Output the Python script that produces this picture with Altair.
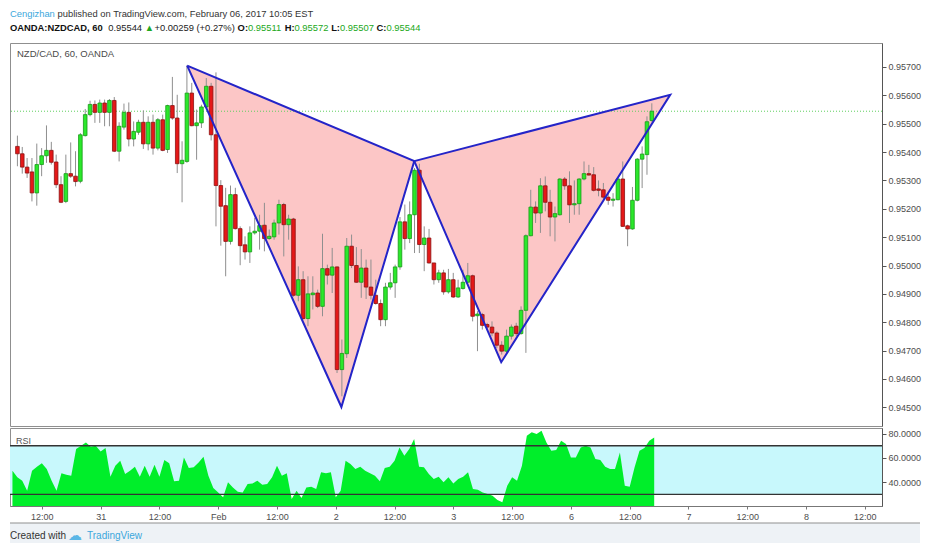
import altair as alt
import pandas as pd

# ---------------- data ----------------
opens = [0.95420,0.95394,0.95347,0.95330,0.95256,0.95356,0.95387,0.95406,0.95365,0.95285,
         0.95226,0.95324,0.95315,0.95297,0.95458,0.95532,0.95568,0.95540,0.95573,0.95540,
         0.95582,0.95403,0.95488,0.95540,0.95446,0.95470,0.95505,0.95429,0.95505,0.95414,
         0.95514,0.95409,0.95564,0.95520,0.95359,0.95367,0.95608,0.95493,0.95503,0.95559,
         0.95632,0.95461,0.95282,0.95211,0.95085,0.95250,0.95130,0.95073,0.95048,0.95115,
         0.95121,0.95142,0.95095,0.95101,0.95150,0.95215,0.95144,0.95164,0.94895,0.94950,
         0.94813,0.94897,0.94903,0.94856,0.94989,0.94966,0.94995,0.94633,0.94689,0.95068,
         0.95000,0.94941,0.94991,0.94924,0.94895,0.94866,0.94809,0.94924,0.94939,0.94995,
         0.95154,0.95095,0.95179,0.95336,0.95074,0.95097,0.95009,0.94950,0.94974,0.94907,
         0.94950,0.94889,0.94919,0.94941,0.94964,0.94823,0.94827,0.94792,0.94783,0.94762,
         0.94719,0.94698,0.94751,0.94786,0.94760,0.94842,0.95105,0.95206,0.95185,0.95281,
         0.95223,0.95171,0.95179,0.95305,0.95281,0.95214,0.95218,0.95305,0.95324,0.95320,
         0.95270,0.95267,0.95241,0.95230,0.95232,0.95305,0.95140,0.95129,0.95230,0.95375,
         0.95391,0.95511]
highs = [0.95458,0.95418,0.95379,0.95379,0.95430,0.95414,0.95494,0.95436,0.95391,0.95315,
         0.95391,0.95434,0.95403,0.95467,0.95552,0.95581,0.95582,0.95585,0.95585,0.95587,
         0.95594,0.95505,0.95571,0.95575,0.95508,0.95514,0.95547,0.95526,0.95532,0.95520,
         0.95532,0.95567,0.95665,0.95602,0.95438,0.95705,0.95644,0.95550,0.95567,0.95661,
         0.95644,0.95681,0.95301,0.95274,0.95282,0.95274,0.95138,0.95103,0.95138,0.95168,
         0.95179,0.95221,0.95127,0.95162,0.95232,0.95221,0.95179,0.95168,0.94997,0.94980,
         0.94962,0.94962,0.94915,0.95112,0.95003,0.95062,0.94997,0.94739,0.95097,0.95109,
         0.95065,0.95058,0.95021,0.95021,0.94950,0.94880,0.94939,0.94974,0.95003,0.95171,
         0.95215,0.95226,0.95344,0.95359,0.95138,0.95129,0.95009,0.94985,0.94985,0.94988,
         0.94974,0.94950,0.94985,0.95009,0.94968,0.94839,0.94833,0.94798,0.94803,0.94768,
         0.94733,0.94774,0.94792,0.94798,0.94856,0.95110,0.95267,0.95226,0.95308,0.95314,
         0.95267,0.95208,0.95308,0.95312,0.95332,0.95300,0.95308,0.95367,0.95355,0.95347,
         0.95300,0.95291,0.95258,0.95255,0.95308,0.95367,0.95144,0.95277,0.95379,0.95420,
         0.95526,0.95572]
lows = [0.95350,0.95324,0.95309,0.95226,0.95211,0.95315,0.95362,0.95356,0.95273,0.95220,
        0.95220,0.95309,0.95279,0.95290,0.95455,0.95526,0.95503,0.95503,0.95491,0.95491,
        0.95400,0.95367,0.95479,0.95420,0.95420,0.95461,0.95411,0.95406,0.95391,0.95406,
        0.95403,0.95397,0.95514,0.95326,0.95223,0.95362,0.95491,0.95373,0.95485,0.95555,
        0.95441,0.95138,0.95070,0.94962,0.95074,0.95127,0.95001,0.95021,0.95009,0.95109,
        0.95056,0.95050,0.95091,0.95091,0.95109,0.95032,0.95091,0.94890,0.94874,0.94809,
        0.94786,0.94845,0.94850,0.94821,0.94933,0.94903,0.94621,0.94539,0.94674,0.94991,
        0.94939,0.94886,0.94882,0.94880,0.94862,0.94786,0.94786,0.94915,0.94886,0.94985,
        0.95056,0.95079,0.95044,0.95044,0.94980,0.95007,0.94933,0.94939,0.94897,0.94901,
        0.94886,0.94886,0.94915,0.94939,0.94803,0.94698,0.94774,0.94774,0.94751,0.94709,
        0.94686,0.94692,0.94739,0.94751,0.94756,0.94692,0.95103,0.95150,0.95115,0.95191,
        0.95103,0.95085,0.95176,0.95267,0.95150,0.95179,0.95179,0.95300,0.95317,0.95261,
        0.95244,0.95234,0.95214,0.95208,0.95230,0.95136,0.95068,0.95126,0.95226,0.95273,
        0.95320,0.95507]
closes = [0.95394,0.95347,0.95326,0.95256,0.95356,0.95387,0.95406,0.95364,0.95285,0.95223,
          0.95324,0.95315,0.95296,0.95461,0.95532,0.95568,0.95540,0.95573,0.95540,0.95582,
          0.95403,0.95491,0.95540,0.95446,0.95473,0.95505,0.95429,0.95505,0.95414,0.95514,
          0.95406,0.95564,0.95520,0.95359,0.95371,0.95608,0.95493,0.95503,0.95559,0.95632,
          0.95461,0.95282,0.95209,0.95085,0.95250,0.95130,0.95070,0.95048,0.95115,0.95121,
          0.95141,0.95095,0.95103,0.95150,0.95215,0.95144,0.95164,0.94895,0.94950,0.94813,
          0.94900,0.94903,0.94856,0.94989,0.94966,0.94995,0.94633,0.94690,0.95068,0.95000,
          0.94941,0.94991,0.94924,0.94895,0.94866,0.94809,0.94924,0.94939,0.94995,0.95154,
          0.95095,0.95179,0.95336,0.95074,0.95097,0.95009,0.94950,0.94974,0.94907,0.94950,
          0.94889,0.94921,0.94941,0.94964,0.94821,0.94829,0.94789,0.94783,0.94762,0.94719,
          0.94698,0.94751,0.94783,0.94760,0.94842,0.95105,0.95206,0.95185,0.95281,0.95223,
          0.95171,0.95183,0.95305,0.95281,0.95214,0.95218,0.95305,0.95324,0.95319,0.95265,
          0.95265,0.95241,0.95230,0.95234,0.95305,0.95138,0.95129,0.95230,0.95375,0.95393,
          0.95507,0.95544]
rsi_values = [49.5,44.0,41.2,33.0,49.5,52.7,55.5,50.8,41.2,33.0,
              47.3,46.2,45.3,67.3,70.0,72.7,69.2,70.0,65.3,68.1,
              44.5,53.6,57.7,46.7,49.5,52.7,44.5,53.6,44.5,54.4,
              44.5,58.2,55.5,40.7,41.2,60.4,51.6,52.2,56.3,61.0,
              45.3,35.2,31.6,27.5,39.9,35.7,32.2,31.6,38.5,39.0,
              41.2,37.9,38.5,44.0,53.6,45.3,47.3,26.2,33.0,27.0,
              35.7,36.3,34.4,48.1,47.3,48.1,27.5,33.0,57.7,54.9,
              50.8,52.7,49.5,47.3,45.3,40.7,51.6,52.7,57.7,68.6,
              61.8,67.3,75.5,52.7,52.2,46.7,42.6,44.5,39.9,44.0,
              39.0,42.6,44.5,48.1,34.4,33.8,31.6,30.3,28.9,25.3,
              23.4,37.1,44.0,41.2,53.6,78.2,81.0,79.6,82.3,72.7,
              65.9,66.4,74.1,71.4,60.4,60.4,68.6,70.0,68.6,59.0,
              58.2,52.7,50.8,50.8,64.5,37.1,36.3,52.2,65.9,68.1,
              74.1,76.8]

tick_positions = [6, 18, 30, 42, 54, 66, 78, 90, 102, 114, 126, 138, 150, 162, 174]
tick_labels = ["12:00", "31", "12:00", "Feb", "12:00", "2", "12:00", "3",
               "12:00", "6", "12:00", "7", "12:00", "8", "12:00"]
price_ticks = [0.945, 0.946, 0.947, 0.948, 0.949, 0.950, 0.951,
               0.952, 0.953, 0.954, 0.955, 0.956, 0.957]
rsi_ticks = [40, 60, 80]
rsi_levels = [70, 30]

pattern_names = ["X", "A", "B", "C", "D"]
pattern_bars = [35.05, 66.9, 81.95, 99.9, 134.8]
pattern_prices = [0.95705, 0.94501, 0.95368, 0.94659, 0.95602]
triangles = [["X", "A", "B"], ["B", "C", "D"]]
last_price = 0.95544

# header segments: (text, colour, weight, gap before it)
header_line1 = [("Cengizhan", "#3ba7dc", "normal", ""),
                ("published on TradingView.com, February 06, 2017 10:05 EST", "#333333", "normal", " ")]
header_line2 = [("OANDA:NZDCAD, 60", "#111111", "bold", ""), ("0.95544", "#222222", "normal", "  "),
                ("\u25b2", "#1fa81f", "normal", " "), ("+0.00259 (+0.27%)", "#222222", "normal", " "),
                ("O:", "#111111", "bold", " "), ("0.95511", "#21a821", "normal", ""),
                ("H:", "#111111", "bold", " "), ("0.95572", "#21a821", "normal", ""),
                ("L:", "#111111", "bold", " "), ("0.95507", "#21a821", "normal", ""),
                ("C:", "#111111", "bold", " "), ("0.95544", "#21a821", "normal", "")]

# ---------------- layout / style ----------------
W = 872
MAIN_H = 383
RSI_H = 78
X_DOMAIN = [-0.5, 177.5]
P_DOMAIN = [0.944341, 0.957846]
R_DOMAIN = [20.4, 84.6]
FONT = "Liberation Sans, Arial, sans-serif"
HFS = 9.4  # header font size

# Arial / Liberation Sans advance widths (per 1000 em) for laying out the header segments
_W = {" ": 278, ".": 278, ",": 278, ":": 278, "(": 333, ")": 333, "+": 584, "%": 889, "/": 278,
      "A": 667, "C": 722, "D": 722, "E": 667, "F": 611, "H": 722, "L": 556, "N": 722, "O": 778,
      "S": 667, "T": 611, "V": 667, "Z": 611, "a": 556, "b": 556, "c": 500, "d": 556, "e": 556,
      "g": 556, "h": 556, "i": 222, "l": 222, "m": 833, "n": 556, "o": 556, "p": 556, "r": 333,
      "s": 500, "u": 556, "w": 722, "y": 500, "z": 500, "\u25b2": 760}
_WB = {"A": 722, "C": 722, "D": 722, "H": 722, "L": 611, "N": 722, "O": 778, "Z": 611, ":": 333}


def text_width(s, size, bold=False):
    tot = 0
    for ch in s:
        tot += (_WB.get(ch) if bold and ch in _WB else _W.get(ch, 556))
    return tot * size / 1000.0


def layout(segments, size):
    xs_, cur = [], 0.0
    for txt, _c, wt, gap in segments:
        cur += text_width(gap, size)
        xs_.append(cur)
        cur += text_width(txt, size, wt == "bold")
    return xs_

# ---------------- tables ----------------
n = len(opens)
candles = pd.DataFrame({"bar": list(range(n)), "open": opens, "high": highs,
                        "low": lows, "close": closes})
candles["dir"] = ["up" if c >= o else "down" for o, c in zip(opens, closes)]

pts = {nm: (b, p) for nm, b, p in zip(pattern_names, pattern_bars, pattern_prices)}
area_rows, line_rows = [], []
for t, tri in enumerate(triangles):
    p0, p1, p2 = sorted([pts[k] for k in tri])
    chord = p0[1] + (p2[1] - p0[1]) * (p1[0] - p0[0]) / (p2[0] - p0[0])
    for (bx, hi, lo) in [(p0[0], p0[1], p0[1]), (p1[0], max(chord, p1[1]), min(chord, p1[1])),
                         (p2[0], p2[1], p2[1])]:
        area_rows.append({"tri": t, "bar": bx, "hi": hi, "lo": lo})
    for s, k in enumerate(tri + [tri[0]]):
        line_rows.append({"tri": t, "seq": s, "bar": pts[k][0], "price": pts[k][1]})
tri_area = pd.DataFrame(area_rows)
tri_lines = pd.DataFrame(line_rows)

rsi_df = pd.DataFrame({"bar": list(range(len(rsi_values))), "rsi": rsi_values})

label_map = "{" + ",".join(f"'{p}':'{l}'" for p, l in zip(tick_positions, tick_labels)) + "}[datum.value]"

xs = alt.Scale(domain=X_DOMAIN, nice=False, zero=False)
ps = alt.Scale(domain=P_DOMAIN, nice=False, zero=False)
rs = alt.Scale(domain=R_DOMAIN, nice=False, zero=False)

price_axis = alt.Axis(orient="right", values=price_ticks, format=".5f", title=None, grid=False,
                      tickSize=4, labelFontSize=9, labelFont=FONT, labelColor="#4d4d4d",
                      tickColor="#555555", domainColor="#555555", labelPadding=2)
rsi_axis = alt.Axis(orient="right", values=rsi_ticks, format=".4f", title=None, grid=False,
                    tickSize=4, labelFontSize=9, labelFont=FONT, labelColor="#4d4d4d",
                    tickColor="#555555", domainColor="#555555", labelPadding=2)
x_axis = alt.Axis(values=tick_positions, labelExpr=label_map, title=None, grid=False,
                  tickSize=3, labelFontSize=9, labelFont=FONT, labelColor="#4d4d4d",
                  tickColor="#777777", domainColor="#777777", labelPadding=3)

X = alt.X("bar:Q", scale=xs, axis=None)

# ---------------- main price panel ----------------
area = alt.Chart(tri_area).mark_area(color="#fcc6c6").encode(
    x=X, y=alt.Y("hi:Q", scale=ps, axis=price_axis), y2="lo:Q", detail="tri:N")
last_rule = alt.Chart(pd.DataFrame({"p": [last_price]})).mark_rule(
    color="#5fcf5f", strokeDash=[1, 2], strokeWidth=1).encode(
    y=alt.Y("p:Q", scale=ps, axis=price_axis))
wicks = alt.Chart(candles).mark_rule(color="#8f8f8f", strokeWidth=1).encode(
    x=X, y=alt.Y("low:Q", scale=ps, axis=price_axis), y2="high:Q")
bodies = alt.Chart(candles).mark_bar(size=3.6, strokeWidth=0.8).encode(
    x=X, y=alt.Y("open:Q", scale=ps, axis=price_axis), y2="close:Q",
    color=alt.Color("dir:N", scale=alt.Scale(domain=["up", "down"], range=["#2be82b", "#e41818"]), legend=None),
    stroke=alt.Stroke("dir:N", scale=alt.Scale(domain=["up", "down"], range=["#179a17", "#8c1111"]), legend=None))
plines = alt.Chart(tri_lines).mark_line(color="#2424c8", strokeWidth=2).encode(
    x=X, y=alt.Y("price:Q", scale=ps, axis=price_axis), order="seq:Q", detail="tri:N")
sym_label = alt.Chart(pd.DataFrame({"t": ["NZD/CAD, 60, OANDA"]})).mark_text(
    align="left", baseline="middle", font=FONT, fontSize=9.5, color="#4a4a4a").encode(
    x=alt.value(7), y=alt.value(11), text="t:N")
main = alt.layer(area, last_rule, wicks, bodies, plines, sym_label).properties(width=W, height=MAIN_H)

# ---------------- RSI panel ----------------
XR = alt.X("bar:Q", scale=xs, axis=x_axis)
band = alt.Chart(pd.DataFrame({"hi": [rsi_levels[0]], "lo": [rsi_levels[1]]})).mark_rect(
    color="#c8f8fc").encode(y=alt.Y("hi:Q", scale=rs, axis=rsi_axis), y2="lo:Q")
rsi_area = alt.Chart(rsi_df).mark_area(color="#00ee2a").encode(
    x=XR, y=alt.Y("rsi:Q", scale=rs, axis=rsi_axis), y2=alt.datum(R_DOMAIN[0]))
levels = alt.Chart(pd.DataFrame({"lvl": rsi_levels})).mark_rule(
    color="#333333", strokeWidth=1.4).encode(y=alt.Y("lvl:Q", scale=rs, axis=rsi_axis))
rsi_label = alt.Chart(pd.DataFrame({"t": ["RSI"]})).mark_text(
    align="left", baseline="middle", font=FONT, fontSize=9, color="#555555").encode(
    x=alt.value(6), y=alt.value(13), text="t:N")
rsi = alt.layer(band, rsi_area, levels, rsi_label).properties(width=W, height=RSI_H)

# ---------------- header / footer ----------------
def text_row(segments, y):
    layers = []
    for (txt, col, wt, _g), xv in zip(segments, layout(segments, HFS)):
        layers.append(alt.Chart(pd.DataFrame({"t": [txt]})).mark_text(
            align="left", baseline="middle", font=FONT, fontSize=HFS, color=col,
            fontWeight=wt).encode(x=alt.value(xv), y=alt.value(y), text="t:N"))
    return layers

header = alt.layer(*(text_row(header_line1, 5) + text_row(header_line2, 19))).properties(
    width=W, height=32, view=alt.ViewBackground(stroke="transparent"))

FW = 910
one = pd.DataFrame({"t": ["Created with"]})
foot_bg = alt.Chart(one).mark_rect(color="#eef2f6").encode(
    x=alt.value(0), x2=alt.value(FW), y=alt.value(0), y2=alt.value(20))
foot_line = alt.Chart(one).mark_rule(color="#8f8f8f").encode(
    x=alt.value(0), x2=alt.value(FW), y=alt.value(0))
foot_t1 = alt.Chart(one).mark_text(align="left", baseline="middle", font=FONT, fontSize=10,
                                   color="#333333").encode(x=alt.value(0), y=alt.value(13), text="t:N")
foot_logo = alt.Chart(pd.DataFrame({"t": ["\u2601"]})).mark_text(
    align="left", baseline="middle", font="DejaVu Sans", fontSize=14, color="#5ab6e6").encode(
    x=alt.value(58), y=alt.value(13), text="t:N")
foot_t2 = alt.Chart(pd.DataFrame({"t": ["TradingView"]})).mark_text(
    align="left", baseline="middle", font=FONT, fontSize=10, color="#3ba7dc").encode(
    x=alt.value(77), y=alt.value(13), text="t:N")
footer = alt.layer(foot_bg, foot_line, foot_t1, foot_logo, foot_t2).properties(
    width=FW, height=20, view=alt.ViewBackground(stroke="transparent"))

chart = alt.vconcat(header, main, rsi, footer, spacing=0).properties(
    padding=0, background="white").configure_view(stroke="#8f8f8f", strokeWidth=1)

chart.save("out.html", embed_options={"renderer": "svg", "actions": False})
